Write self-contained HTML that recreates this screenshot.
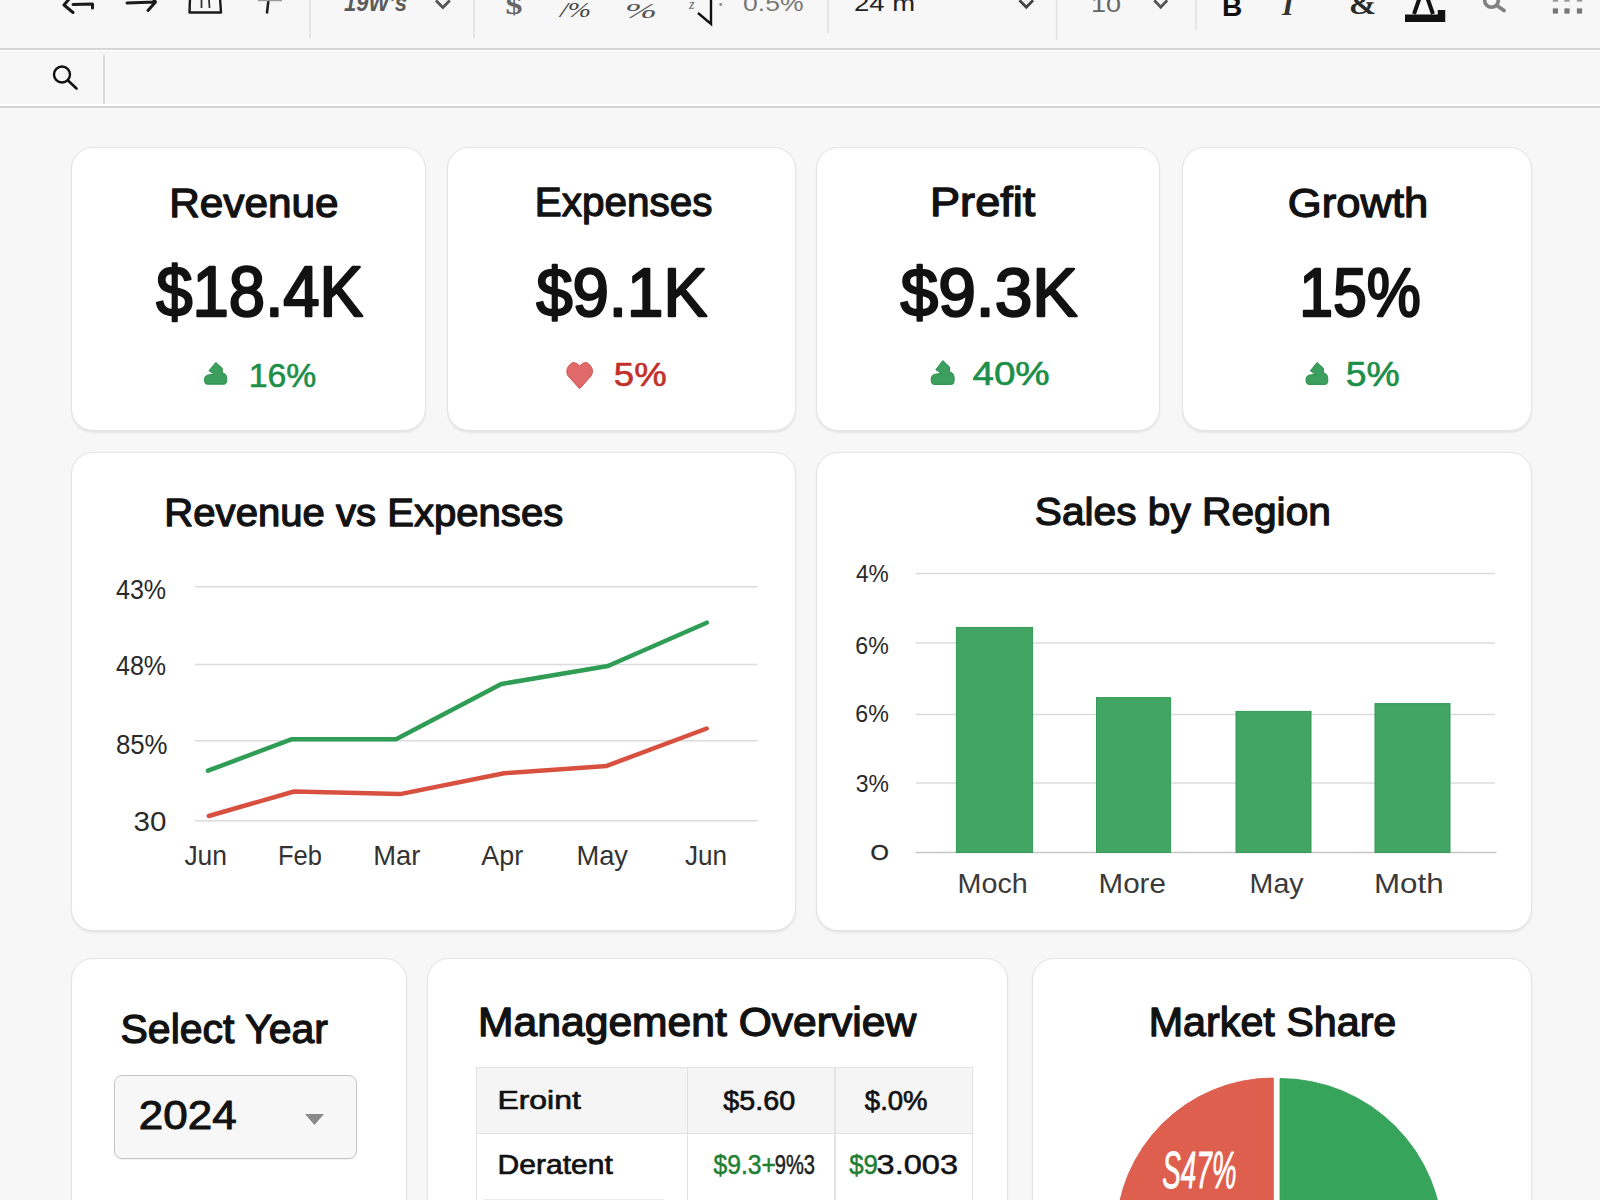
<!DOCTYPE html>
<html><head><meta charset="utf-8"><title>Dashboard</title>
<style>
html,body{margin:0;padding:0;}
body{width:1600px;height:1200px;overflow:hidden;position:relative;background:#f7f7f7;font-family:"Liberation Sans",sans-serif;}
.bar1{position:absolute;left:0;top:48px;width:1600px;height:1.6px;background:#d5d5d5;}
.bar1w{position:absolute;left:0;top:50px;width:1600px;height:1.2px;background:#ffffff;}
.bar2w{position:absolute;left:0;top:104.3px;width:1600px;height:1.3px;background:#ffffff;}
.bar2{position:absolute;left:0;top:106.4px;width:1600px;height:1.6px;background:#d3d3d3;}
.fdiv{position:absolute;left:103.3px;top:55px;width:1.4px;height:49px;background:#dadada;}
.card{position:absolute;box-sizing:border-box;background:#fff;border:1px solid #e4e4e4;border-radius:22px;box-shadow:0 1.5px 2px rgba(0,0,0,0.07);}
.sel{position:absolute;left:113.5px;top:1075px;width:243px;height:83.5px;box-sizing:border-box;background:#f7f7f7;border:1.5px solid #c6c6c6;border-radius:8px;box-shadow:0 1px 1px rgba(0,0,0,0.06);}
.tbl{position:absolute;left:476px;top:1066.6px;width:497px;height:160px;box-sizing:border-box;border:1.3px solid #e2e2e2;}
.thead{position:absolute;left:476px;top:1066.6px;width:497px;height:67px;background:#f5f5f5;}
.hl{position:absolute;background:#e2e2e2;}
svg{position:absolute;left:0;top:0;}
</style></head>
<body>
<div class="bar1"></div><div class="bar1w"></div>
<div class="bar2w"></div><div class="bar2"></div>
<div class="fdiv"></div>
<div class="card" style="left:71px;top:147px;width:355px;height:284px"></div><div class="card" style="left:447px;top:147px;width:349px;height:284px"></div><div class="card" style="left:816px;top:147px;width:344px;height:284px"></div><div class="card" style="left:1182px;top:147px;width:350px;height:284px"></div><div class="card" style="left:71px;top:452px;width:725px;height:479px"></div><div class="card" style="left:816px;top:452px;width:716px;height:479px"></div><div class="card" style="left:71px;top:958px;width:336px;height:272px"></div><div class="card" style="left:427px;top:958px;width:581px;height:272px"></div><div class="card" style="left:1032px;top:958px;width:500px;height:272px"></div>
<div class="sel"></div>
<div class="thead"></div>
<div class="tbl"></div>
<div class="hl" style="left:476px;top:1132.8px;width:497px;height:1.4px"></div>
<div class="hl" style="left:686.5px;top:1066.6px;width:1.4px;height:140px"></div>
<div class="hl" style="left:834.3px;top:1066.6px;width:1.4px;height:140px"></div>
<div class="hl" style="left:484px;top:1198.8px;width:180px;height:1.2px;background:#ececec"></div>
<svg width="1600" height="1200" viewBox="0 0 1600 1200">
<path d="M92.5,8 L92.5,4 L73,4.5 M70,-2 L64,5 L73,12.5" fill="none" stroke="#1a1a1a" stroke-width="3" stroke-linecap="round" stroke-linejoin="round"/>
<path d="M127,3 L155,2 M150,-6 L155.5,2 L148,10.5" fill="none" stroke="#1a1a1a" stroke-width="3" stroke-linecap="round" stroke-linejoin="round"/>
<path d="M190,-2 L189.5,12.5 L221,12.5 L220,-2" fill="none" stroke="#1a1a1a" stroke-width="2.4" stroke-linejoin="round"/>
<path d="M201.5,0 L201.5,8 M209,0 L209.5,8" fill="none" stroke="#333" stroke-width="1.8"/>
<path d="M268.5,0 L267,12.5" fill="none" stroke="#222" stroke-width="2.6" stroke-linecap="round"/><path d="M258,0.5 L282,0.5" stroke="#999" stroke-width="1.5"/>
<line x1="310" y1="0" x2="310" y2="38" stroke="#dedede" stroke-width="1.3"/>
<line x1="474" y1="0" x2="474" y2="38" stroke="#dedede" stroke-width="1.3"/>
<line x1="828" y1="0" x2="828" y2="33" stroke="#dedede" stroke-width="1.3"/>
<line x1="1056.5" y1="0" x2="1056.5" y2="40" stroke="#dedede" stroke-width="1.3"/>
<line x1="1196" y1="0" x2="1196" y2="30" stroke="#dedede" stroke-width="1.3"/>
<path d="M435.9,0.40000000000000036 L442.85,7.4 L449.8,0.40000000000000036" fill="none" stroke="#555" stroke-width="2.8" stroke-linejoin="miter"/>
<path d="M1019.5,0.3000000000000007 L1026.3,7.300000000000001 L1033.1,0.3000000000000007" fill="none" stroke="#444" stroke-width="2.8" stroke-linejoin="miter"/>
<path d="M1154.3,0.3000000000000007 L1160.75,7.300000000000001 L1167.2,0.3000000000000007" fill="none" stroke="#555" stroke-width="2.8" stroke-linejoin="miter"/>
<text x="1222" y="15.5" font-family="Liberation Sans" font-weight="bold" font-size="28" fill="#111">B</text>
<text x="1282" y="14.5" font-family="Liberation Serif" font-style="italic" font-weight="bold" font-size="30" fill="#333">I</text>
<text x="1349" y="13.8" font-family="Liberation Serif" font-weight="bold" font-size="30" fill="#2a2a2a" textLength="27" lengthAdjust="spacingAndGlyphs">&amp;</text>
<path d="M1414,14 L1421,-6 L1426,-6 L1433,14" fill="none" stroke="#111" stroke-width="4"/>
<path d="M1405,18.2 L1441.5,18.2 L1441.5,10" fill="none" stroke="#111" stroke-width="7.5" stroke-linejoin="miter"/>
<circle cx="1491.5" cy="0.5" r="6.8" fill="none" stroke="#808080" stroke-width="3.6"/><line x1="1497.5" y1="6" x2="1504" y2="10.5" stroke="#808080" stroke-width="3.8" stroke-linecap="round"/>
<rect x="1552.8000000000002" y="8.4" width="5.2" height="5.2" fill="#777"/><rect x="1552.8000000000002" y="-3.5" width="5.2" height="5.2" fill="#999"/>
<rect x="1564.4" y="8.4" width="5.2" height="5.2" fill="#777"/><rect x="1564.4" y="-3.5" width="5.2" height="5.2" fill="#999"/>
<rect x="1576.9" y="8.4" width="5.2" height="5.2" fill="#777"/><rect x="1576.9" y="-3.5" width="5.2" height="5.2" fill="#999"/>
<text x="344" y="11.3" font-family="Liberation Sans" font-style="italic" font-weight="bold" font-size="23" fill="#5a5a5a" textLength="63" lengthAdjust="spacingAndGlyphs">19W&#8217;s</text>
<text x="505.5" y="14" font-family="Liberation Serif" font-weight="bold" font-size="26" fill="#666" textLength="17" lengthAdjust="spacingAndGlyphs">$</text>
<text x="560" y="17" font-family="Liberation Serif" font-style="italic" font-size="22" fill="#444" textLength="31" lengthAdjust="spacingAndGlyphs">/%</text>
<text x="625" y="18" font-family="Liberation Serif" font-style="italic" font-size="22" fill="#555" textLength="32" lengthAdjust="spacingAndGlyphs">%</text>
<path d="M711,-2 L711,24 L698,13" fill="none" stroke="#111" stroke-width="2.4"/><text x="689" y="9" font-family="Liberation Serif" font-style="italic" font-size="14" fill="#666">z</text><circle cx="720.7" cy="4.5" r="1.4" fill="#888"/>
<text x="743" y="11" font-family="Liberation Sans" font-size="22" fill="#777" textLength="60.5" lengthAdjust="spacingAndGlyphs">0.5%</text>
<text x="854" y="11" font-family="Liberation Sans" font-size="22" fill="#222" textLength="61" lengthAdjust="spacingAndGlyphs">24 m</text>
<text x="1091" y="11.5" font-family="Liberation Sans" font-size="22" fill="#666" textLength="30" lengthAdjust="spacingAndGlyphs">10</text>
<line x1="195" y1="586.7" x2="757.5" y2="586.7" stroke="#dcdcdc" stroke-width="1.5"/>
<line x1="195" y1="664.5" x2="757.5" y2="664.5" stroke="#dcdcdc" stroke-width="1.5"/>
<line x1="195" y1="740.8" x2="757.5" y2="740.8" stroke="#dcdcdc" stroke-width="1.5"/>
<line x1="195" y1="820.8" x2="757.5" y2="820.8" stroke="#dcdcdc" stroke-width="1.5"/>
<polyline points="208,770.7 292,739.2 396,739.2 501.3,684 608,666 706.7,622.7" fill="none" stroke="#2f9d55" stroke-width="4.5" stroke-linejoin="round" stroke-linecap="round"/>
<polyline points="208.8,816 294,791.5 400,794.1 504,773.3 606.7,765.9 706.7,728.5" fill="none" stroke="#d8503f" stroke-width="4.5" stroke-linejoin="round" stroke-linecap="round"/>
<line x1="915.5" y1="573.4" x2="1495" y2="573.4" stroke="#dcdcdc" stroke-width="1.5"/>
<line x1="915.5" y1="643" x2="1495" y2="643" stroke="#dcdcdc" stroke-width="1.5"/>
<line x1="915.5" y1="714.4" x2="1495" y2="714.4" stroke="#dcdcdc" stroke-width="1.5"/>
<line x1="915.5" y1="783.1" x2="1495" y2="783.1" stroke="#dcdcdc" stroke-width="1.5"/>
<line x1="915.5" y1="852.4" x2="1496.5" y2="852.4" stroke="#c8c8c8" stroke-width="1.5"/>
<rect x="956.4" y="627.4" width="76.19999999999993" height="225.0" fill="#43a563" stroke="#359956" stroke-width="1"/>
<rect x="1096.5" y="697.6" width="74.09999999999991" height="154.79999999999995" fill="#43a563" stroke="#359956" stroke-width="1"/>
<rect x="1236" y="711.4" width="75" height="141.0" fill="#43a563" stroke="#359956" stroke-width="1"/>
<rect x="1375" y="703.6" width="75" height="148.79999999999995" fill="#43a563" stroke="#359956" stroke-width="1"/>
<path d="M305,1114 L324,1114 L314.5,1125 Z" fill="#8a8a8a"/>
<path d="M1273.3,1235.3 L1273.3,1078.0 A157.3,157.3 0 0 0 1116.0,1235.3 Z" fill="#de5f4e" stroke="#d45746" stroke-width="0.8"/>
<path d="M1280,1241.3 L1280,1078.5 A162.8,162.8 0 0 1 1442.8,1241.3 Z" fill="#36a55b" stroke="#2e9b52" stroke-width="0.8"/>
<text x="1162.15" y="1187.60" font-family="Liberation Sans" font-size="51.16" font-weight="normal" fill="#ffffff" stroke="#ffffff" stroke-width="0.8" stroke-linejoin="round" textLength="74.39" lengthAdjust="spacingAndGlyphs" font-style="italic">S47%</text>
<text x="713.40" y="1173.95" font-family="Liberation Sans" font-size="28.05" font-weight="normal" fill="#1f7f35" stroke="#1f7f35" stroke-width="0.5" stroke-linejoin="round" textLength="62.53" lengthAdjust="spacingAndGlyphs">$9.3+</text>
<text x="774.80" y="1173.95" font-family="Liberation Sans" font-size="28.05" font-weight="normal" fill="#222" stroke="#222" stroke-width="0.5" stroke-linejoin="round" textLength="40.24" lengthAdjust="spacingAndGlyphs">9%3</text>
<text x="849.19" y="1173.95" font-family="Liberation Sans" font-size="28.05" font-weight="normal" fill="#1f7f35" stroke="#1f7f35" stroke-width="0.5" stroke-linejoin="round" textLength="28.78" lengthAdjust="spacingAndGlyphs">$9</text>
<text x="876.53" y="1173.95" font-family="Liberation Sans" font-size="28.05" font-weight="normal" fill="#121212" stroke="#121212" stroke-width="0.5" stroke-linejoin="round" textLength="81.51" lengthAdjust="spacingAndGlyphs">3.003</text>
<circle cx="62" cy="74.5" r="8" fill="none" stroke="#111" stroke-width="2.4"/>
<line x1="68" y1="80.5" x2="76.5" y2="88.5" stroke="#111" stroke-width="2.6" stroke-linecap="round"/>
<path d="M215.75,362.50 L222.28,368.36 L222.28,372.70 Q226.78,373.78 226.78,378.56 Q227.00,384.20 224.30,384.20 L207.20,384.20 Q204.50,384.20 204.50,379.43 Q204.50,374.87 210.12,374.65 L214.40,374.22 L209.00,370.75 Z" fill="#3c9f5f" stroke="#2a9049" stroke-width="1" stroke-linejoin="round"/>
<path d="M942.80,360.60 L949.53,367.03 L949.53,371.79 Q954.17,372.98 954.17,378.21 Q954.40,384.40 951.62,384.40 L933.98,384.40 Q931.20,384.40 931.20,379.16 Q931.20,374.17 937.00,373.93 L941.41,373.45 L935.84,369.64 Z" fill="#3c9f5f" stroke="#2a9049" stroke-width="1" stroke-linejoin="round"/>
<path d="M1317.00,362.50 L1323.38,368.41 L1323.38,372.79 Q1327.78,373.89 1327.78,378.71 Q1328.00,384.40 1325.36,384.40 L1308.64,384.40 Q1306.00,384.40 1306.00,379.58 Q1306.00,374.98 1311.50,374.76 L1315.68,374.33 L1310.40,370.82 Z" fill="#3c9f5f" stroke="#2a9049" stroke-width="1" stroke-linejoin="round"/>
<path d="M579.6500000000001,388.7 L567.8480000000001,375.6 Q564.195,367.74 572.625,362.5 Q577.402,362.5 579.6500000000001,366.168 Q581.898,362.5 586.6750000000001,362.5 Q595.105,367.74 591.452,375.6 Z" fill="#e06a6a" stroke="#cf5252" stroke-width="1"/>
<text x="169.16" y="216.55" font-family="Liberation Sans" font-size="41.28" font-weight="normal" fill="#121212" stroke="#121212" stroke-width="1.3" stroke-linejoin="round" textLength="169.52" lengthAdjust="spacingAndGlyphs">Revenue</text>
<text x="534.81" y="216.25" font-family="Liberation Sans" font-size="40.84" font-weight="normal" fill="#121212" stroke="#121212" stroke-width="1.3" stroke-linejoin="round" textLength="177.82" lengthAdjust="spacingAndGlyphs">Expenses</text>
<text x="930.03" y="216.25" font-family="Liberation Sans" font-size="40.84" font-weight="normal" fill="#121212" stroke="#121212" stroke-width="1.3" stroke-linejoin="round" textLength="105.33" lengthAdjust="spacingAndGlyphs">Prefit</text>
<text x="1287.87" y="216.55" font-family="Liberation Sans" font-size="41.28" font-weight="normal" fill="#121212" stroke="#121212" stroke-width="1.3" stroke-linejoin="round" textLength="140.43" lengthAdjust="spacingAndGlyphs">Growth</text>
<text x="156.25" y="316.30" font-family="Liberation Sans" font-size="69.62" font-weight="normal" fill="#121212" stroke="#121212" stroke-width="2.4" stroke-linejoin="round" textLength="206.84" lengthAdjust="spacingAndGlyphs">$18.4K</text>
<text x="536.15" y="316.30" font-family="Liberation Sans" font-size="69.19" font-weight="normal" fill="#121212" stroke="#121212" stroke-width="2.4" stroke-linejoin="round" textLength="170.86" lengthAdjust="spacingAndGlyphs">$9.1K</text>
<text x="900.52" y="316.30" font-family="Liberation Sans" font-size="69.19" font-weight="normal" fill="#121212" stroke="#121212" stroke-width="2.4" stroke-linejoin="round" textLength="177.01" lengthAdjust="spacingAndGlyphs">$9.3K</text>
<text x="1299.14" y="316.30" font-family="Liberation Sans" font-size="69.19" font-weight="normal" fill="#121212" stroke="#121212" stroke-width="2.4" stroke-linejoin="round" textLength="121.73" lengthAdjust="spacingAndGlyphs">15%</text>
<text x="248.77" y="386.90" font-family="Liberation Sans" font-size="34.01" font-weight="normal" fill="#1d8f49" stroke="#1d8f49" stroke-width="0.6" stroke-linejoin="round" textLength="67.58" lengthAdjust="spacingAndGlyphs">16%</text>
<text x="613.84" y="386.00" font-family="Liberation Sans" font-size="33.72" font-weight="normal" fill="#c2302b" stroke="#c2302b" stroke-width="0.6" stroke-linejoin="round" textLength="52.75" lengthAdjust="spacingAndGlyphs">5%</text>
<text x="972.43" y="384.70" font-family="Liberation Sans" font-size="34.01" font-weight="normal" fill="#1d8f49" stroke="#1d8f49" stroke-width="0.6" stroke-linejoin="round" textLength="77.28" lengthAdjust="spacingAndGlyphs">40%</text>
<text x="1345.81" y="385.70" font-family="Liberation Sans" font-size="34.74" font-weight="normal" fill="#1d8f49" stroke="#1d8f49" stroke-width="0.6" stroke-linejoin="round" textLength="53.91" lengthAdjust="spacingAndGlyphs">5%</text>
<text x="164.34" y="525.55" font-family="Liberation Sans" font-size="39.24" font-weight="normal" fill="#121212" stroke="#121212" stroke-width="1.3" stroke-linejoin="round" textLength="398.93" lengthAdjust="spacingAndGlyphs">Revenue vs Expenses</text>
<text x="1034.82" y="525.35" font-family="Liberation Sans" font-size="39.39" font-weight="normal" fill="#121212" stroke="#121212" stroke-width="1.3" stroke-linejoin="round" textLength="296.07" lengthAdjust="spacingAndGlyphs">Sales by Region</text>
<text x="120.51" y="1043.15" font-family="Liberation Sans" font-size="40.99" font-weight="normal" fill="#121212" stroke="#121212" stroke-width="1.3" stroke-linejoin="round" textLength="207.45" lengthAdjust="spacingAndGlyphs">Select Year</text>
<text x="478.13" y="1036.05" font-family="Liberation Sans" font-size="39.83" font-weight="normal" fill="#121212" stroke="#121212" stroke-width="1.3" stroke-linejoin="round" textLength="438.11" lengthAdjust="spacingAndGlyphs">Management Overview</text>
<text x="1148.75" y="1035.65" font-family="Liberation Sans" font-size="40.55" font-weight="normal" fill="#121212" stroke="#121212" stroke-width="1.3" stroke-linejoin="round" textLength="247.56" lengthAdjust="spacingAndGlyphs">Market Share</text>
<text x="115.94" y="598.70" font-family="Liberation Sans" font-size="27.18" font-weight="normal" fill="#2a2a2a" textLength="50.22" lengthAdjust="spacingAndGlyphs">43%</text>
<text x="115.94" y="675.20" font-family="Liberation Sans" font-size="27.18" font-weight="normal" fill="#2a2a2a" textLength="50.22" lengthAdjust="spacingAndGlyphs">48%</text>
<text x="115.90" y="754.00" font-family="Liberation Sans" font-size="28.05" font-weight="normal" fill="#2a2a2a" textLength="51.68" lengthAdjust="spacingAndGlyphs">85%</text>
<text x="133.59" y="830.70" font-family="Liberation Sans" font-size="27.18" font-weight="normal" fill="#2a2a2a" textLength="32.89" lengthAdjust="spacingAndGlyphs">30</text>
<text x="184.40" y="865.30" font-family="Liberation Sans" font-size="27.03" font-weight="normal" fill="#333333" textLength="42.61" lengthAdjust="spacingAndGlyphs">Jun</text>
<text x="277.90" y="865.30" font-family="Liberation Sans" font-size="27.03" font-weight="normal" fill="#333333" textLength="43.94" lengthAdjust="spacingAndGlyphs">Feb</text>
<text x="373.24" y="865.30" font-family="Liberation Sans" font-size="27.03" font-weight="normal" fill="#333333" textLength="47.16" lengthAdjust="spacingAndGlyphs">Mar</text>
<text x="481.23" y="865.30" font-family="Liberation Sans" font-size="27.03" font-weight="normal" fill="#333333" textLength="41.90" lengthAdjust="spacingAndGlyphs">Apr</text>
<text x="576.45" y="865.30" font-family="Liberation Sans" font-size="27.03" font-weight="normal" fill="#333333" textLength="51.60" lengthAdjust="spacingAndGlyphs">May</text>
<text x="684.91" y="865.30" font-family="Liberation Sans" font-size="27.03" font-weight="normal" fill="#333333" textLength="42.08" lengthAdjust="spacingAndGlyphs">Jun</text>
<text x="855.99" y="582.40" font-family="Liberation Sans" font-size="23.11" font-weight="normal" fill="#2a2a2a" textLength="32.81" lengthAdjust="spacingAndGlyphs">4%</text>
<text x="855.34" y="653.50" font-family="Liberation Sans" font-size="23.98" font-weight="normal" fill="#2a2a2a" textLength="33.48" lengthAdjust="spacingAndGlyphs">6%</text>
<text x="855.34" y="722.00" font-family="Liberation Sans" font-size="24.13" font-weight="normal" fill="#2a2a2a" textLength="33.48" lengthAdjust="spacingAndGlyphs">6%</text>
<text x="855.64" y="792.00" font-family="Liberation Sans" font-size="24.71" font-weight="normal" fill="#2a2a2a" textLength="33.17" lengthAdjust="spacingAndGlyphs">3%</text>
<text x="870.58" y="860.30" font-family="Liberation Sans" font-size="21.22" font-weight="normal" fill="#2a2a2a" stroke="#2a2a2a" stroke-width="0.4" stroke-linejoin="round" textLength="18.35" lengthAdjust="spacingAndGlyphs">O</text>
<text x="957.63" y="892.60" font-family="Liberation Sans" font-size="27.03" font-weight="normal" fill="#3a3a3a" textLength="70.17" lengthAdjust="spacingAndGlyphs">Moch</text>
<text x="1098.56" y="892.60" font-family="Liberation Sans" font-size="27.03" font-weight="normal" fill="#3a3a3a" textLength="67.32" lengthAdjust="spacingAndGlyphs">More</text>
<text x="1249.64" y="892.60" font-family="Liberation Sans" font-size="27.03" font-weight="normal" fill="#3a3a3a" textLength="54.01" lengthAdjust="spacingAndGlyphs">May</text>
<text x="1373.91" y="892.60" font-family="Liberation Sans" font-size="27.03" font-weight="normal" fill="#3a3a3a" textLength="69.67" lengthAdjust="spacingAndGlyphs">Moth</text>
<text x="138.80" y="1128.90" font-family="Liberation Sans" font-size="40.70" font-weight="normal" fill="#121212" stroke="#121212" stroke-width="1.0" stroke-linejoin="round" textLength="97.80" lengthAdjust="spacingAndGlyphs">2024</text>
<text x="497.42" y="1109.35" font-family="Liberation Sans" font-size="26.45" font-weight="normal" fill="#121212" stroke="#121212" stroke-width="0.7" stroke-linejoin="round" textLength="83.37" lengthAdjust="spacingAndGlyphs">Eroint</text>
<text x="723.36" y="1109.65" font-family="Liberation Sans" font-size="27.33" font-weight="normal" fill="#121212" stroke="#121212" stroke-width="0.7" stroke-linejoin="round" textLength="71.87" lengthAdjust="spacingAndGlyphs">$5.60</text>
<text x="864.87" y="1109.65" font-family="Liberation Sans" font-size="27.33" font-weight="normal" fill="#121212" stroke="#121212" stroke-width="0.7" stroke-linejoin="round" textLength="62.72" lengthAdjust="spacingAndGlyphs">$.0%</text>
<text x="497.57" y="1173.85" font-family="Liberation Sans" font-size="27.76" font-weight="normal" fill="#121212" stroke="#121212" stroke-width="0.7" stroke-linejoin="round" textLength="115.32" lengthAdjust="spacingAndGlyphs">Deratent</text>
</svg>
</body></html>
